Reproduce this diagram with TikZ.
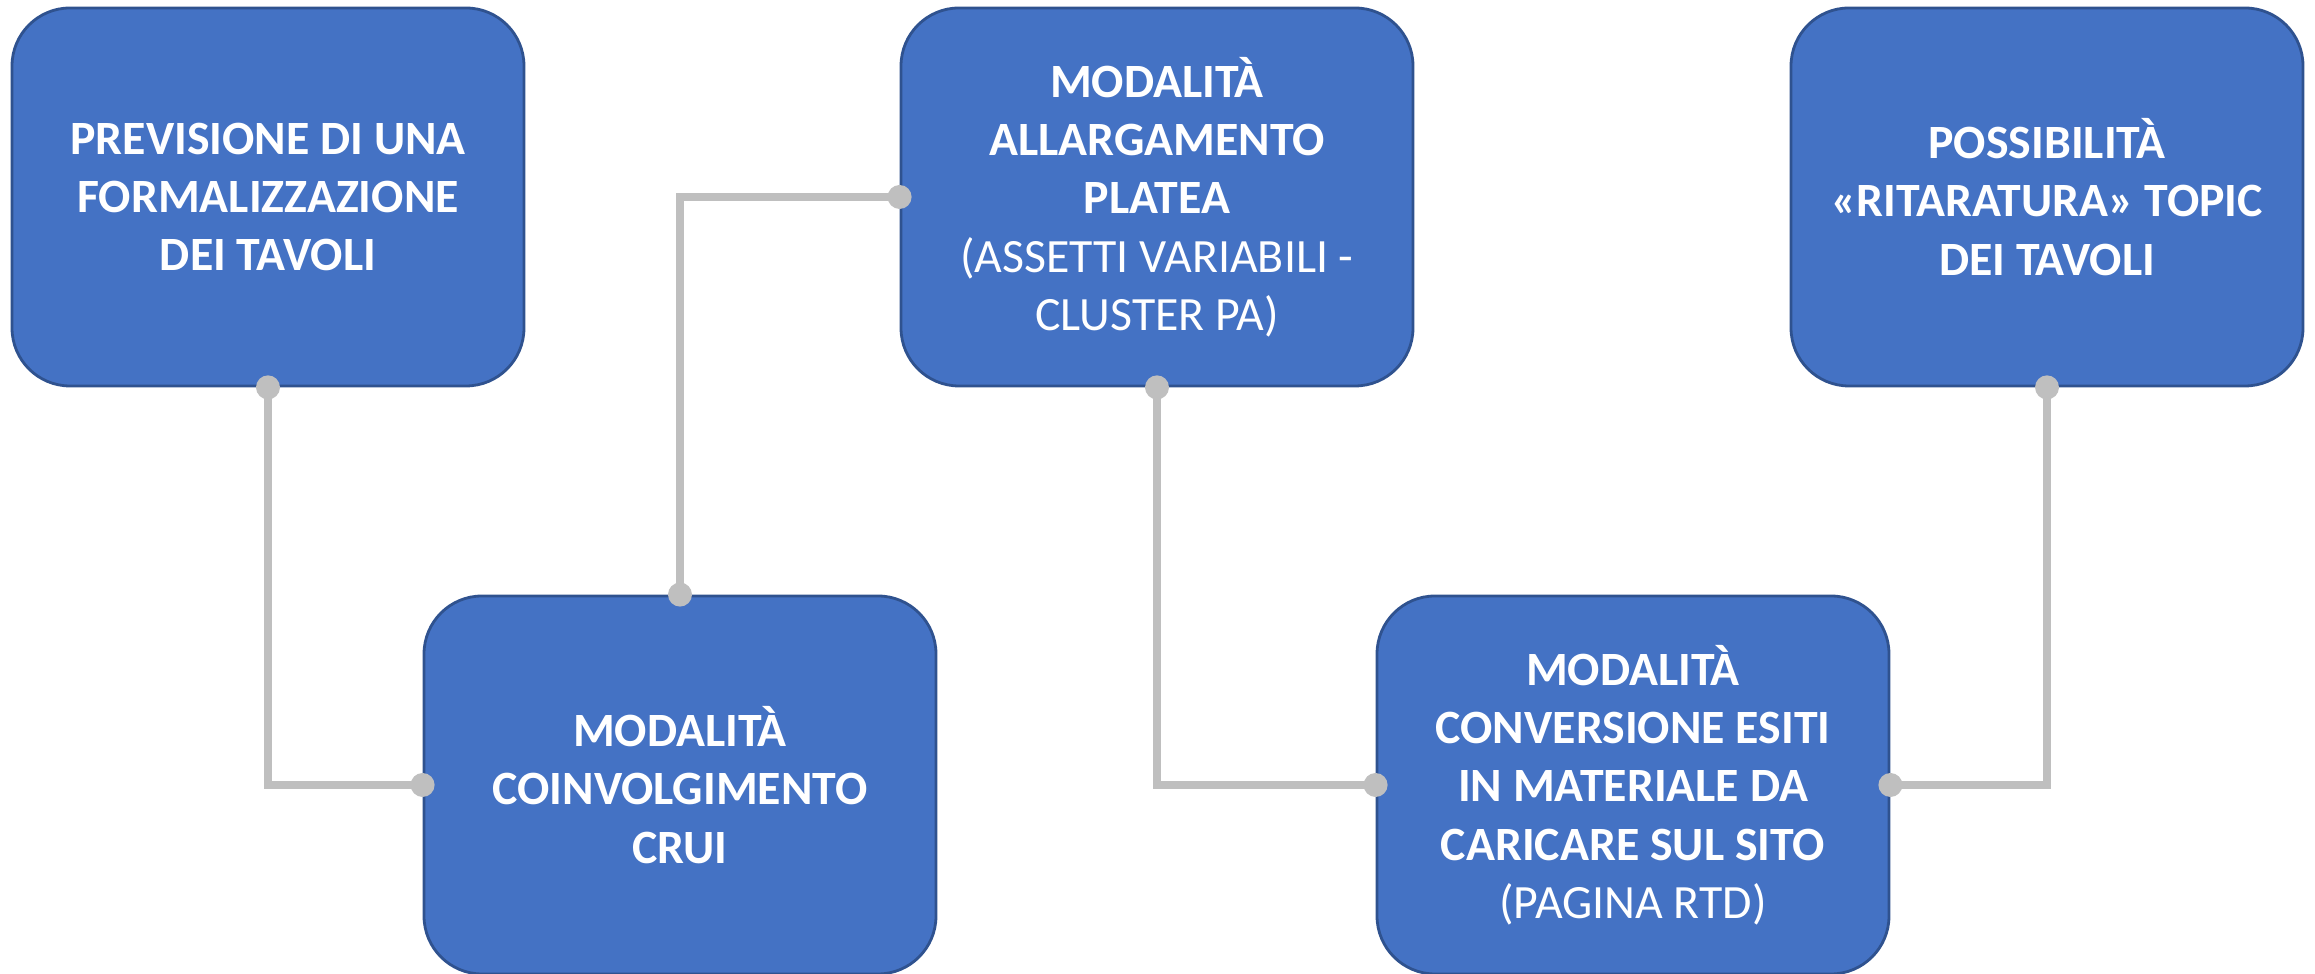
\documentclass[tikz,border=0pt]{standalone}
\usepackage{fontspec}
\setmainfont{Carlito}
\definecolor{boxblue}{HTML}{4472C4}
\definecolor{boxedge}{HTML}{2F528F}
\definecolor{linkgray}{HTML}{BFBFBF}

\begin{document}
\begin{tikzpicture}[
  box/.style={draw=boxedge, line width=0.8pt, fill=boxblue, rounded corners=0.58cm,
    minimum width=5.12cm, minimum height=3.78cm, inner sep=0pt, text=white,
    align=center, font=\fontsize{13.6}{16.6}\selectfont\bfseries},
  link/.style={draw=linkgray, line width=0.08cm}
]
\useasboundingbox (0,0) rectangle (23.15,9.74);

\node[box] (prev) at (2.68,7.77) {PREVISIONE DI UNA\\ FORMALIZZAZIONE\\ DEI TAVOLI};
\node[box] (crui) at (6.80,1.89) {MODALITÀ\\ COINVOLGIMENTO\\ CRUI};
\node[box] (platea) at (11.57,7.77) {MODALITÀ\\ ALLARGAMENTO\\ PLATEA\\ \mdseries(ASSETTI VARIABILI -\\ \mdseries CLUSTER PA)};
\node[box] (conv) at (16.33,1.89) {MODALITÀ\\ CONVERSIONE ESITI\\ IN MATERIALE DA\\ CARICARE SUL SITO\\ \mdseries(PAGINA RTD)};
\node[box] (ritar) at (20.47,7.77) {POSSIBILITÀ\\ «RITARATURA» TOPIC\\ DEI TAVOLI};

\path[link] (prev.south) |- (crui.west);
\path[link] (crui.north) |- (platea.west);
\path[link] (platea.south) |- (conv.west);
\path[link] (conv.east) -| (ritar.south);

\foreach \p in {prev.south, crui.west, crui.north, platea.west,
  platea.south, conv.west, conv.east, ritar.south}
  \fill[linkgray] (\p) circle (0.12);
\end{tikzpicture}
\end{document}
